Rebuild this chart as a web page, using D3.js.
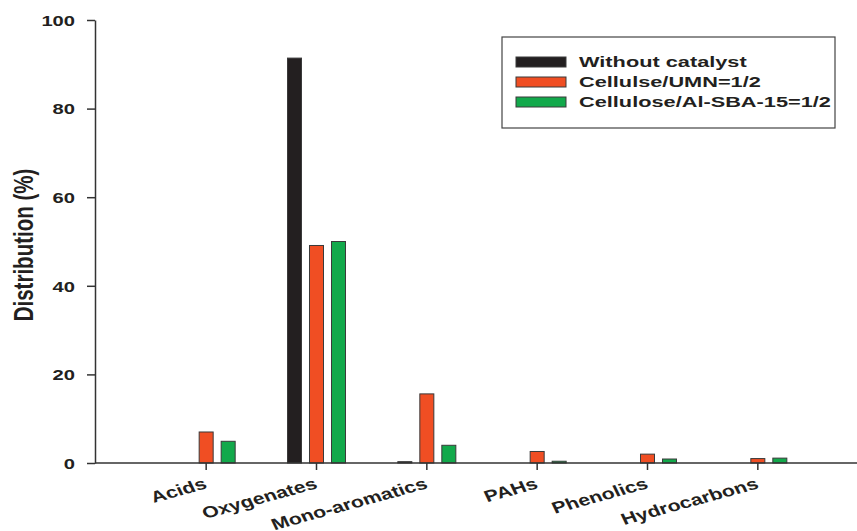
<!DOCTYPE html>
<html>
<head>
<meta charset="utf-8">
<script src="https://cdn.jsdelivr.net/npm/d3@7"></script>
<style>
  html, body { margin: 0; padding: 0; background: #fff; }
  svg { display: block; }
  text { font-family: "Liberation Sans", Arial, sans-serif; font-weight: bold; fill: #231f20; }
</style>
</head>
<body>
<svg id="chart" width="857" height="531"></svg>
<script>
// Product distribution from cellulose pyrolysis, by compound class
const categories = ["Acids", "Oxygenates", "Mono-aromatics", "PAHs", "Phenolics", "Hydrocarbons"];
const seriesNames = ["Without catalyst", "Cellulse/UMN=1/2", "Cellulose/Al-SBA-15=1/2"];
const withoutCatalyst = [0, 91.4, 0.3, 0, 0, 0];
const cellulseUMN = [7.0, 49.1, 15.6, 2.6, 2.0, 1.0];
const celluloseAlSBA = [4.9, 50.0, 4.0, 0.4, 0.9, 1.1];
const yTicks = [0, 20, 40, 60, 80, 100];
const seriesColors = ["#231f20", "#f04e23", "#12a94b"];

const series = [withoutCatalyst, cellulseUMN, celluloseAlSBA];
const svg = d3.select("#chart");

const x = d3.scaleBand().domain(categories).range([151, 813]);
const offset = d3.scaleBand().domain(seriesNames).range([-29, 29]).paddingInner(0.3636);
const y = d3.scaleLinear().domain([0, 100]).range([463, 20]);

// bars (zero entries are not drawn)
series.forEach((vals, si) => {
  svg.append("g")
    .selectAll("rect")
    .data(categories.map((c, i) => ({ c, v: vals[i] })).filter(d => d.v > 0))
    .join("rect")
    .attr("x", d => x(d.c) + x.bandwidth() / 2 + offset(seriesNames[si]))
    .attr("width", offset.bandwidth())
    .attr("y", d => y(d.v))
    .attr("height", d => y(0) - y(d.v))
    .attr("fill", seriesColors[si])
    .attr("stroke", "#3a3a3a")
    .attr("stroke-width", 1);
});

// y axis
const yAxis = svg.append("g")
  .attr("transform", "translate(95,0)")
  .call(d3.axisLeft(y).tickValues(yTicks).tickSize(8).tickPadding(12).tickSizeOuter(0));
yAxis.select(".domain").attr("stroke", "#333").attr("stroke-width", 1.5);
yAxis.selectAll(".tick line").attr("stroke", "#333").attr("stroke-width", 1.5);
yAxis.selectAll(".tick text")
  .attr("font-size", 15.5)
  .attr("font-family", null)
  .attr("fill", null)
  .attr("x", null)
  .attr("dy", "0.34em")
  .attr("transform", "translate(-20,0) scale(1.3,1)");

// x axis
const xAxis = svg.append("g")
  .attr("transform", `translate(0,${y(0)})`)
  .call(d3.axisBottom(x).tickSize(7).tickSizeOuter(0));
xAxis.select(".domain").attr("d", "M95,0H857").attr("stroke", "#333").attr("stroke-width", 1.5);
xAxis.selectAll(".tick line").attr("stroke", "#333").attr("stroke-width", 1.5);
xAxis.selectAll(".tick text")
  .attr("font-size", 16)
  .attr("font-family", null)
  .attr("fill", null)
  .attr("text-anchor", "end")
  .attr("dy", null)
  .attr("y", null)
  .attr("transform", "translate(2,25) scale(1.33,1) rotate(-20)");

// y title
svg.append("text")
  .attr("transform", "translate(33,245) rotate(-90) scale(1,1.33)")
  .attr("text-anchor", "middle")
  .attr("font-size", 20.5)
  .text("Distribution (%)");

// legend
const lg = svg.append("g");
lg.append("rect")
  .attr("x", 502).attr("y", 37).attr("width", 333).attr("height", 91)
  .attr("fill", "#fff").attr("stroke", "#444").attr("stroke-width", 1.2);
seriesNames.forEach((name, i) => {
  const cy = 62 + i * 20;
  lg.append("rect")
    .attr("x", 516).attr("y", cy - 5).attr("width", 50).attr("height", 10)
    .attr("fill", seriesColors[i]).attr("stroke", "#3a3a3a").attr("stroke-width", 1);
  lg.append("text")
    .attr("transform", `translate(579,${cy + 5}) scale(1.45,1)`)
    .attr("font-size", 15)
    .text(name);
});
</script>
</body>
</html>
